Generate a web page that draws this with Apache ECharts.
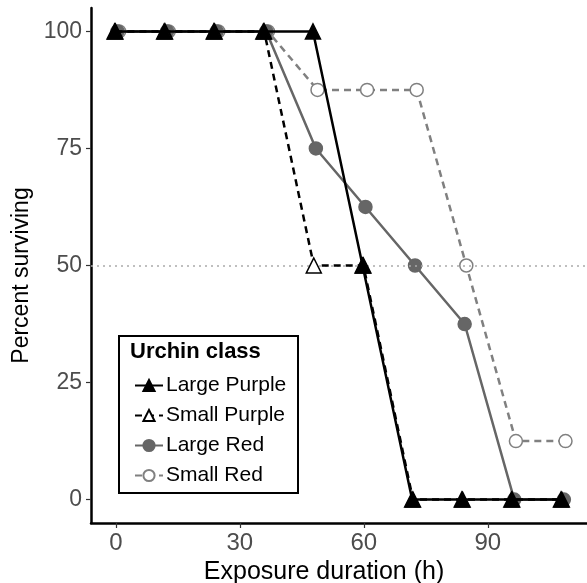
<!DOCTYPE html>
<html><head><meta charset="utf-8">
<script src="https://cdn.jsdelivr.net/npm/echarts@6/dist/echarts.min.js"></script>
<style>html,body{margin:0;padding:0;background:#fff}#c{width:587px;height:583px}</style>
</head><body><div id="c"></div>
<script>
const hours = [0, 12, 24, 36, 48, 60, 72, 84, 96, 108];
const largePurple = [100, 100, 100, 100, 100, 50, 0, 0, 0, 0];
const smallPurple = [100, 100, 100, 100, 50, 50, 0, 0, 0, 0];
const largeRed = [100, 100, 100, 100, 75, 62.5, 50, 37.5, 0, 0];
const smallRed = [100, 100, 100, 100, 87.5, 87.5, 87.5, 50, 12.5, 12.5];
const seriesNames = ['Large Purple', 'Small Purple', 'Large Red', 'Small Red'];
const xTicks = [0, 30, 60, 90];
const yTicks = [0, 25, 50, 75, 100];
const refLine = 50;

const FONT = '"Liberation Sans", Arial, sans-serif';
const dodge = [-0.3, -0.1, 0.4, 0.8];
function pts(vals, k) { return hours.map((h, i) => [h + dodge[k], vals[i]]); }

const styles = [
  {color: '#000', type: 'solid', symbol: 'triangle', size: 15, fill: '#000', z: 6},
  {color: '#000', type: [7, 5], symbol: 'triangle', size: 15, fill: '#fff', z: 5},
  {color: '#666', type: 'solid', symbol: 'circle', size: 13, fill: '#666', z: 4},
  {color: '#808080', type: [7, 5], symbol: 'circle', size: 13, fill: '#fff', z: 3}
];
const allVals = [largePurple, smallPurple, largeRed, smallRed];

const series = allVals.map((v, k) => {
  const s = styles[k];
  return {
    name: seriesNames[k], type: 'line', data: pts(v, k), z: s.z,
    symbol: s.symbol, symbolSize: s.size, showAllSymbol: true,
    lineStyle: {color: s.color, width: 2.5, type: s.type},
    itemStyle: {color: s.fill, borderColor: s.color, borderWidth: 1.5},
    emphasis: {disabled: true}, animation: false
  };
});
series.push({
  type: 'line', data: [], z: 1, silent: true,
  markLine: {
    symbol: 'none', silent: true, animation: false, label: {show: false},
    lineStyle: {color: '#aaa', type: [2, 4], width: 1.5},
    data: [{yAxis: refLine}]
  }
});

const chart = echarts.init(document.getElementById('c'));
chart.setOption({
  animation: false,
  grid: {left: 91, right: 0, top: 8, bottom: 60, containLabel: false, outerBoundsMode: 'none'},
  xAxis: {
    type: 'value', min: -6, max: 114,
    name: 'Exposure duration (h)', nameLocation: 'middle', nameGap: 37,
    nameTextStyle: {fontFamily: FONT, fontSize: 25, color: '#000', padding: [0, 30, 0, 0]},
    axisLine: {show: true, onZero: false, lineStyle: {color: '#000', width: 2.5}},
    axisTick: {show: true, length: 5, lineStyle: {color: '#333', width: 1.2}, customValues: xTicks},
    axisLabel: {fontFamily: FONT, fontSize: 24, color: '#4d4d4d', margin: 8, customValues: xTicks},
    splitLine: {show: false}
  },
  yAxis: {
    type: 'value', min: -5, max: 105,
    name: 'Percent surviving', nameLocation: 'middle', nameGap: 54, nameRotate: 90,
    nameTextStyle: {fontFamily: FONT, fontSize: 23, color: '#000', padding: [0, 20, 0, 0]},
    axisLine: {show: true, onZero: false, lineStyle: {color: '#000', width: 2.5}},
    axisTick: {show: true, length: 5, lineStyle: {color: '#333', width: 1.2}, customValues: yTicks},
    axisLabel: {fontFamily: FONT, fontSize: 23, color: '#4d4d4d', margin: 9, customValues: yTicks},
    splitLine: {show: false}
  },
  legend: {
    orient: 'vertical', left: 129, top: 370, itemGap: 9, z: 20,
    itemWidth: 28, itemHeight: 14,
    textStyle: {fontFamily: FONT, fontSize: 21, color: '#000', padding: [0, 0, 0, -2]},
    data: seriesNames, selectedMode: false
  },
  graphic: [
    {type: 'rect', z: 15, shape: {x: 119, y: 336, width: 179, height: 157}, style: {fill: '#fff', stroke: '#000', lineWidth: 2}},
    {type: 'text', z: 21, left: 130, top: 341, style: {text: 'Urchin class', fontFamily: FONT, fontSize: 22, fontWeight: 'bold', fill: '#000'}}
  ],
  series: series
});
</script></body></html>
